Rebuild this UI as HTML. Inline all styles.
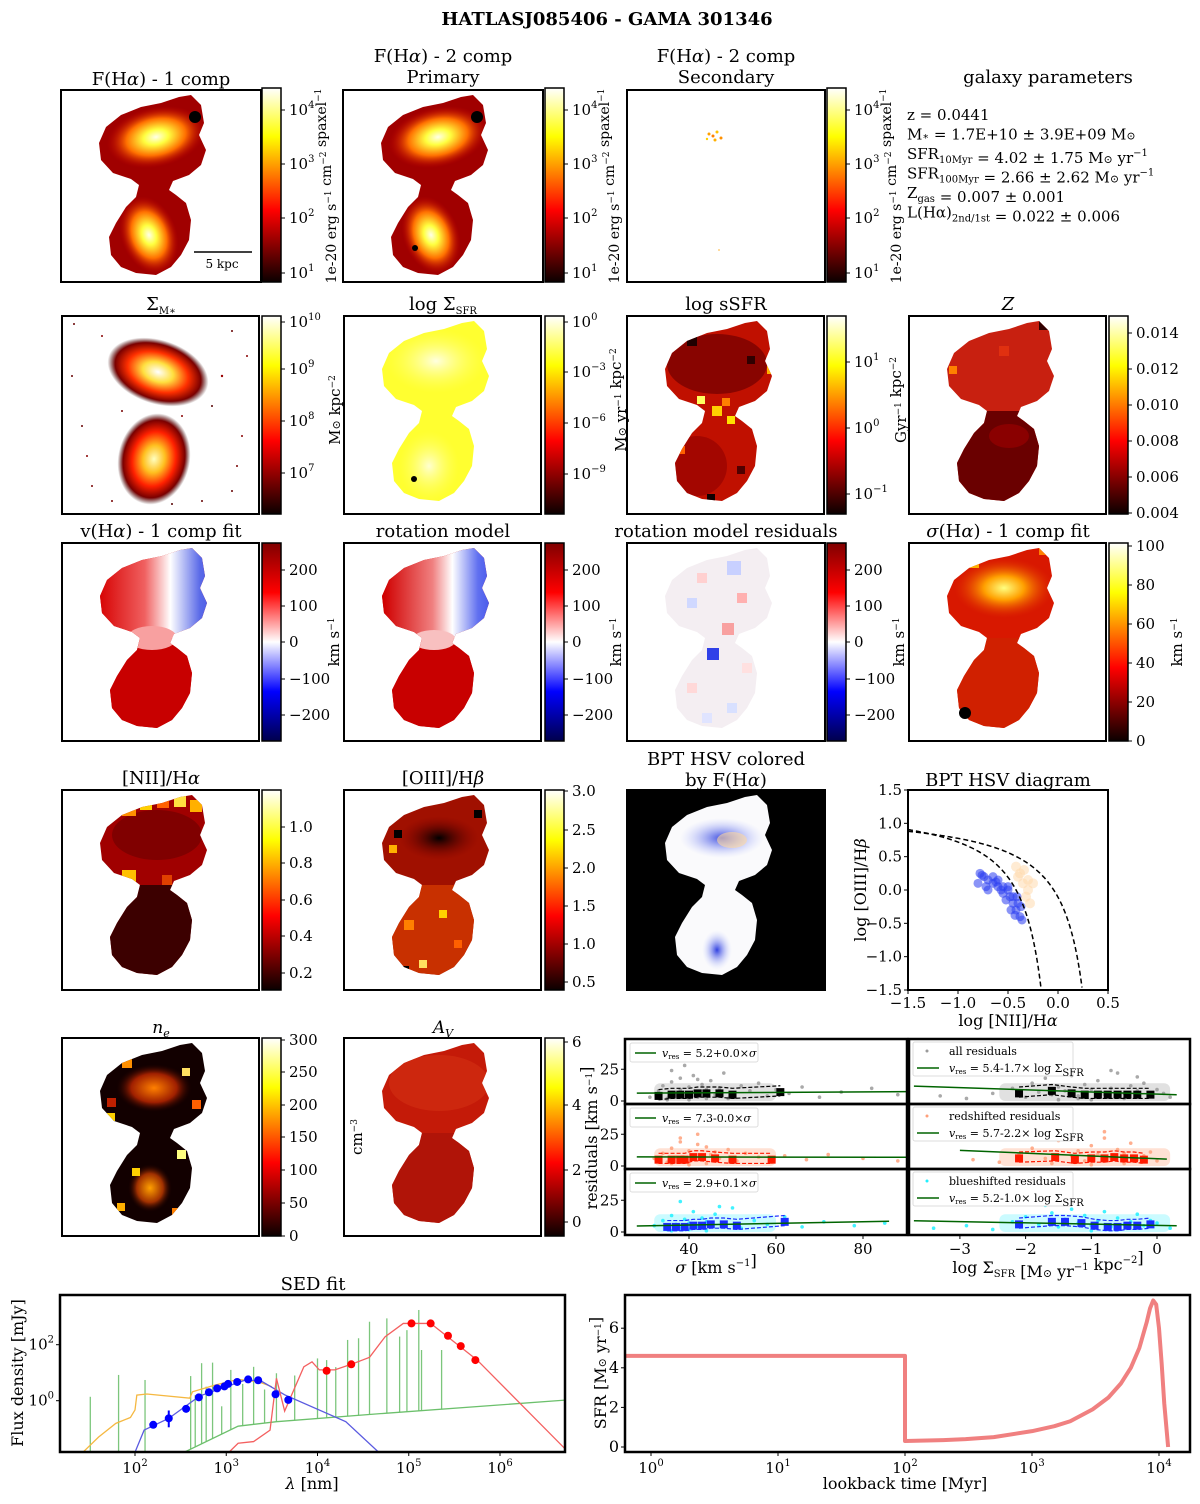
<!DOCTYPE html>
<html><head><meta charset="utf-8"><style>
html,body{margin:0;padding:0;background:#fff}
svg text{font-family:"DejaVu Serif","Liberation Serif",serif;fill:#000}
</style></head><body>
<svg id="fig" xmlns="http://www.w3.org/2000/svg" width="1200" height="1499" viewBox="0 0 1200 1499">
<defs>
<linearGradient id="hot" x1="0" y1="1" x2="0" y2="0"><stop offset="0" stop-color="#0b0000"/><stop offset="0.37" stop-color="#ff0000"/><stop offset="0.75" stop-color="#ffff00"/><stop offset="1" stop-color="#ffffff"/></linearGradient>
<linearGradient id="seis" x1="0" y1="1" x2="0" y2="0"><stop offset="0" stop-color="#00004c"/><stop offset="0.25" stop-color="#0000ff"/><stop offset="0.5" stop-color="#ffffff"/><stop offset="0.75" stop-color="#ff0000"/><stop offset="1" stop-color="#800000"/></linearGradient>
<linearGradient id="velh" x1="0" y1="0" x2="1" y2="0"><stop offset="0.2" stop-color="#d80808"/><stop offset="0.42" stop-color="#f06060"/><stop offset="0.55" stop-color="#ffffff"/><stop offset="0.7" stop-color="#5a6ae8"/><stop offset="0.85" stop-color="#3040e0"/></linearGradient>
<linearGradient id="roth" x1="0" y1="0" x2="1" y2="0"><stop offset="0.2" stop-color="#d00000"/><stop offset="0.45" stop-color="#f08080"/><stop offset="0.55" stop-color="#ffffff"/><stop offset="0.68" stop-color="#6070f0"/><stop offset="0.85" stop-color="#2030e0"/></linearGradient>
</defs>
<text x="607" y="25" font-size="18" font-weight="bold" text-anchor="middle">HATLASJ085406 - GAMA 301346</text>
</svg>
<script>
// ---------- chart data ----------
const sedBlueLam=[2.20,2.37,2.56,2.70,2.81,2.90,2.98,3.02,3.12,3.24,3.35,3.54,3.68];
const sedBlueFlux=[-0.86,-0.63,-0.29,0.12,0.30,0.44,0.51,0.60,0.67,0.76,0.73,0.23,0.03];
const sedRedLam=[4.10,4.37,5.03,5.24,5.43,5.57,5.73];
const sedRedFlux=[1.07,1.30,2.76,2.76,2.32,1.95,1.45];
const orangeLam=[1.43,1.6,1.79,1.95,2.0,2.02,2.13,2.6,2.63,2.88,3.13,3.35,3.5];
const orangeFlux=[-1.84,-1.3,-0.81,-0.6,-0.33,0.20,0.24,0.09,0.32,0.56,0.76,0.68,0.5];
const blueModelLam=[2.0,2.1,2.37,2.71,3.22,3.39,3.64,4.31,4.67];
const blueModelFlux=[-1.84,-1.05,-0.63,0.17,0.75,0.69,0.21,-0.75,-1.84];
const redModelLam=[3.03,3.13,3.30,3.48,3.55,3.64,3.85,3.94,4.02,4.19,4.37,4.57,4.74,4.94,5.24,5.75,6.75];
const redModelFlux=[-1.84,-1.52,-1.46,-1.05,0.80,-0.37,1.21,1.39,1.10,1.10,1.30,1.55,2.28,2.76,2.76,1.45,-1.84];
const greenContLam=[2.54,3.13,3.55,4.74,6.75];
const greenContFlux=[-1.84,-0.91,-0.75,-0.45,0.03];
const greenLineLam=[1.51,1.82,2.11,2.61,2.73,2.85,3.05,3.30,3.55,4.00,4.10,4.33,4.45,4.57,4.76,4.90,4.98,5.11,5.14,5.36,2.66,2.78,2.95,3.18,3.42,3.75,4.20];
const greenLineTop=[0.14,0.92,0.74,0.88,1.34,1.36,1.10,1.21,0.98,1.51,1.45,2.17,2.23,2.82,2.94,2.29,2.52,3.24,1.81,1.81,0.2,0.5,-0.2,0.6,0.4,0.9,1.2];
const sfhTime=[0.6,100,100,200,300,500,1000,1500,2000,3000,4000,5000,6000,7000,8000,8500,9000,9500,10000,10500,11000,11800];
const sfhRate=[4.6,4.6,0.3,0.35,0.4,0.5,0.8,1.05,1.3,1.9,2.5,3.2,4.0,5.0,6.3,7.0,7.4,7.2,6.0,4.2,2.2,0.0];
const bptBlueN2=[-0.78,-0.76,-0.74,-0.7,-0.65,-0.6,-0.55,-0.5,-0.48,-0.45,-0.42,-0.38,-0.36,-0.5,-0.55,-0.65,-0.7,-0.45,-0.4,-0.6,-0.52,-0.8,-0.72,-0.47,-0.43,-0.57,-0.62,-0.41,-0.37];
const bptBlueO3=[0.25,0.22,0.2,0.15,0.1,0.05,0.05,0.0,-0.1,-0.2,-0.3,-0.4,-0.45,0.05,-0.05,0.2,0.0,-0.1,-0.2,0.15,-0.15,0.1,0.05,-0.3,-0.38,0.0,0.12,-0.1,-0.25];
const bptOrN2=[-0.4,-0.35,-0.3,-0.32,-0.38,-0.3,-0.28,-0.25,-0.34,-0.42];
const bptOrO3=[0.2,0.1,0.0,-0.1,0.25,0.15,-0.2,0.1,0.3,0.35];
// residual scatter
const sigAll=[31,33,34,35,36,37,38,38,39,40,41,41,42,43,44,45,46,47,48,50,52,54,56,58,60,63,66,70,75,82,88,35,40,44,49,36,39,42,33,37];
const resAll=[3,8,12,2,15,6,9,18,4,11,7,20,3,13,9,16,5,10,22,6,12,8,14,4,9,6,11,3,7,10,5,1,1,2,2,24,28,17,6,4];
const sigRed=[32,34,35,36,37,38,39,40,41,42,43,44,45,47,49,51,53,56,59,62,67,72,80,88,36,40,44,38,42,46];
const resRed=[6,10,3,14,7,19,4,12,8,25,5,15,9,6,13,4,10,7,3,8,5,9,6,4,2,1,2,22,17,11];
const sigCyan=[32,34,35,36,37,38,39,40,41,42,43,44,46,48,50,52,55,58,62,66,71,78,85,36,40,44,38,47];
const resCyan=[5,9,2,13,6,3,10,7,16,4,11,8,14,5,19,3,9,6,12,4,8,5,7,1,2,1,24,20];
const lsAll=[-3.3,-2.9,-2.5,-2.2,-2.0,-1.9,-1.8,-1.7,-1.6,-1.5,-1.4,-1.3,-1.2,-1.1,-1.0,-0.9,-0.8,-0.7,-0.6,-0.5,-0.4,-0.3,-0.2,-0.1,0.0,0.1,0.2,-1.5,-1.0,-0.5,-1.8,-0.7,-0.3,-1.2];
const lrAll=[4,2,6,10,3,14,7,18,5,11,8,20,4,13,9,16,5,10,22,6,12,8,14,4,9,6,3,1,1,2,26,24,19,2];
const lsRed=[-2.8,-2.4,-2.1,-1.9,-1.7,-1.5,-1.3,-1.2,-1.1,-1.0,-0.9,-0.8,-0.7,-0.6,-0.5,-0.4,-0.3,-0.2,-0.1,0.0,-1.6,-1.0,-0.5,-0.8,-1.4];
const lrRed=[5,3,9,14,6,20,8,12,4,16,9,22,6,13,10,18,5,8,11,4,2,1,2,27,24];
const lsCyan=[-3.4,-2.9,-2.5,-2.2,-2.0,-1.8,-1.6,-1.5,-1.4,-1.3,-1.2,-1.1,-1.0,-0.9,-0.8,-0.7,-0.6,-0.5,-0.4,-0.3,-0.2,-0.1,0.0,0.2,-1.0,-0.6,-1.7];
const lrCyan=[3,5,2,8,12,6,15,4,10,18,7,13,5,9,16,4,11,6,8,14,5,9,7,3,1,2,21];
const binSig1=[33,36,38,40,42,44,47,50,61], binRes1=[4,5,5,5,6,6,6,5,7];
const binSig2=[33,36,38,39,41,43,46,50,59], binRes2=[5,5,5,5,7,7,6,5,5];
const binSig3=[35,37,39,41,43,45,48,51,62], binRes3=[4,4,4,5,5,6,6,5,8];
const binLs1=[-2.1,-1.6,-1.3,-1.1,-0.9,-0.75,-0.6,-0.45,-0.3,-0.1], binLr1=[6,8,6,5,5,5,5,5,5,5];
const binLs2=[-2.1,-1.55,-1.25,-1.0,-0.8,-0.65,-0.5,-0.35,-0.2], binLr2=[6,7,5,6,6,7,6,6,5];
const binLs3=[-2.1,-1.6,-1.4,-1.15,-0.95,-0.75,-0.6,-0.45,-0.3,-0.1], binLr3=[6,8,8,7,5,4,4,5,5,6];
const fitIntercepts=[5.6,7.3,2.9,5.4,5.7,5.2];
const fitSlopes=[0.02,-0.005,0.065,-1.7,-2.2,-1.0];

// ---------- helpers ----------
const NS='http://www.w3.org/2000/svg';
const svg=document.getElementById('fig');
const defs=svg.querySelector('defs');
function el(tag,attrs,parent){const e=document.createElementNS(NS,tag);for(const k in attrs)e.setAttribute(k,attrs[k]);(parent||svg).appendChild(e);return e;}
function nm(e,n,i){


return e;}
function txt(x,y,html,size,anchor,name,extra,parent){const t=el('text',Object.assign({x:x,y:y,'font-size':size||16,'text-anchor':anchor||'middle'},extra||{}),parent);t.innerHTML=html;nm(t,name);return t;}
function grp(name){const g=el('g',{});nm(g,name);return g;}
let gid=0;
function radial(stops){const id='rg'+(gid++);const g=el('radialGradient',{id:id},defs);stops.forEach(s=>el('stop',{offset:s[0],'stop-color':s[1],'stop-opacity':s[2]===undefined?1:s[2]},g));return 'url(#'+id+')';}
const sub=(s)=>'<tspan font-size="10" dy="4">'+s+'</tspan><tspan dy="-4"></tspan>';
const sup=(s)=>'<tspan font-size="10" dy="-7">'+s+'</tspan><tspan dy="7"></tspan>';
const supS=(s)=>'<tspan font-size="9" dy="-5">'+s+'</tspan><tspan dy="5"></tspan>';

// ---------- galaxy maps ----------
const galPoly=[[60,20],[80,12],[100,8],[118,2],[130,0],[140,10],[143,28],[138,40],[145,55],[140,70],[128,80],[112,86],[108,95],[115,100],[125,108],[130,125],[128,145],[120,160],[110,172],[95,180],[75,178],[60,172],[50,160],[48,142],[55,128],[65,112],[75,102],[78,90],[70,84],[52,78],[40,65],[38,48],[45,32]];
function mapPanel(px,py,w,h,name,st){
  const g=grp(name);
  el('rect',{x:px,y:py,width:w,height:h,fill:st.bg||'#fff'},g);
  if(st.poly!==false){
    const id='cp'+(gid++);
    const cp=el('clipPath',{id:id},defs);
    const pts=galPoly.map(p=>(px+p[0]+(st.dx||0))+','+(py+p[1]+5)).join(' ');
    el('polygon',{points:pts},cp);
    const inner=el('g',{'clip-path':'url(#'+id+')'},g);
    el('rect',{x:px,y:py,width:w,height:h,fill:st.base},inner);
    if(st.upperFill) el('rect',{x:px,y:py,width:w,height:95,fill:st.upperFill},inner);
    if(st.lowerFill) el('rect',{x:px,y:py+95,width:w,height:h-95,fill:st.lowerFill},inner);
    (st.ells||[]).forEach(e=>{const f=e.stops?radial(e.stops):e.fill;el('ellipse',{cx:px+e.cx,cy:py+e.cy,rx:e.rx,ry:e.ry,fill:f,opacity:e.op||1,transform:'rotate('+(e.rot||0)+' '+(px+e.cx)+' '+(py+e.cy)+')'},inner);});
    (st.dots||[]).forEach(d=>el('rect',{x:px+d[0],y:py+d[1],width:d[2],height:d[2],fill:d[3]},inner));
  } else {
    (st.ells||[]).forEach(e=>{const f=radial(e.stops);el('ellipse',{cx:px+e.cx,cy:py+e.cy,rx:e.rx,ry:e.ry,fill:f,transform:'rotate('+(e.rot||0)+' '+(px+e.cx)+' '+(py+e.cy)+')'},g);});
  }
  (st.top||[]).forEach(d=>el('circle',{cx:px+d[0],cy:py+d[1],r:d[2],fill:d[3]},g));
  const fr=el('rect',{x:px,y:py,width:w,height:h,fill:'none',stroke:'#000','stroke-width':2},g);
  nm(fr,name+'-frame');
  return g;
}
function colorbar(x,y,h,grad,ticks,name){
  const g=grp(name);
  el('rect',{x:x,y:y,width:19,height:h,fill:'url(#'+grad+')',stroke:'#000','stroke-width':1.5},g);
  ticks.forEach(t=>{el('line',{x1:x+19,x2:x+23,y1:t[0],y2:t[0],stroke:'#000'},g);txt(x+27,t[0]+5,t[1],15,'start',name+'-tick',{},g);});
  return g;
}
function vlabel(x,y,html,name,size){txt(x,y,html,size||15,'middle',name,{transform:'rotate(-90 '+x+' '+y+')'});}

const hotStops=[[0,'#ffffe8'],[0.25,'#ffff40'],[0.6,'#ff7000'],[1,'#c00000',0]];
// Row 1
const p10=(e)=>'10'+sup(e);
mapPanel(61,90,200,192,'halpha-1comp-map',{base:'#a00000',ells:[{cx:95,cy:47,rx:50,ry:30,rot:-12,stops:hotStops},{cx:88,cy:145,rx:28,ry:40,rot:-20,stops:hotStops}],top:[[134,27,6,'#000']]});
mapPanel(343,90,200,192,'halpha-primary-map',{base:'#a00000',ells:[{cx:95,cy:47,rx:50,ry:30,rot:-12,stops:hotStops},{cx:88,cy:145,rx:28,ry:40,rot:-20,stops:hotStops}],top:[[134,27,6,'#000'],[72,158,3,'#000']]});
mapPanel(627,90,198,192,'halpha-secondary-map',{poly:false,ells:[],top:[[82,44,1.5,'#ffa000'],[86,46,1.5,'#ff8000'],[90,42,1.5,'#ffc000'],[94,48,1.5,'#ff9000'],[88,50,1.5,'#ffb000'],[80,49,1.2,'#ffd000'],[92,160,1,'#ffd080']]});
const sb=grp('scale-bar');
el('line',{x1:194,x2:252,y1:252,y2:252,stroke:'#000','stroke-width':1.5},sb);
txt(222,268,'5 kpc',12,'middle','scale-bar-label',{},sb);
const t1=[[110,p10(4)],[164,p10(3)],[218,p10(2)],[273,p10(1)]];
colorbar(262,88,194,'hot',t1,'colorbar-halpha-1comp');
colorbar(545,88,194,'hot',t1,'colorbar-halpha-primary');
colorbar(827,88,194,'hot',t1,'colorbar-halpha-secondary');
const fluxLab='1e-20 erg s'+supS('−1')+' cm'+supS('−2')+' spaxel'+supS('−1');
vlabel(336,186,fluxLab,'colorbar-label-flux-1',14);
vlabel(619,186,fluxLab,'colorbar-label-flux-2',14);
vlabel(901,186,fluxLab,'colorbar-label-flux-3',14);
txt(161,85,'F(H<tspan font-style="italic">α</tspan>) - 1 comp',18,'middle','title-halpha-1comp');
txt(443,62,'F(H<tspan font-style="italic">α</tspan>) - 2 comp',18,'middle','title-halpha-2comp');
txt(443,83,'Primary',18,'middle','title-primary');
txt(726,62,'F(H<tspan font-style="italic">α</tspan>) - 2 comp',18,'middle','title-halpha-2comp-b');
txt(726,83,'Secondary',18,'middle','title-secondary');
txt(1048,83,'galaxy parameters',18,'middle','title-galaxy-parameters');
const gp=grp('galaxy-parameters-text');
[['z = 0.0441'],['M<tspan font-size="10">∗</tspan> = 1.7E+10 ± 3.9E+09 M<tspan font-size="11">⊙</tspan>'],['SFR'+sub('10Myr')+' = 4.02 ± 1.75 M<tspan font-size="11">⊙</tspan> yr'+sup('−1')],['SFR'+sub('100Myr')+' = 2.66 ± 2.62 M<tspan font-size="11">⊙</tspan> yr'+sup('−1')],['Z'+sub('gas')+' = 0.007 ± 0.001'],['L(Hα)'+sub('2nd/1st')+' = 0.022 ± 0.006']].forEach((l,i)=>txt(907,120+i*19.5,l[0],15,'start','galaxy-parameter-line',{},gp));

// Row 2
mapPanel(62,316,197,198,'stellar-mass-density-map',{poly:false,ells:[{cx:96,cy:56,rx:52,ry:32,rot:18,stops:[[0,'#ffffff'],[0.3,'#ffe040'],[0.6,'#ff3000'],[0.85,'#7a0000'],[1,'#300000',0]]},{cx:92,cy:143,rx:36,ry:46,rot:12,stops:[[0,'#ffffc0'],[0.3,'#ffc020'],[0.6,'#ff2000'],[0.85,'#7a0000'],[1,'#300000',0]]}],top:[[12,8,1,'#600'],[40,20,1,'#800'],[170,15,1,'#600'],[185,40,1,'#800'],[20,110,1,'#600'],[180,120,1,'#800'],[150,90,1,'#500'],[30,170,1,'#700'],[170,175,1,'#600'],[60,95,1,'#700'],[120,100,1,'#800'],[175,150,1,'#700'],[10,60,1,'#600'],[140,185,1,'#600'],[25,140,1,'#800'],[160,60,1.2,'#900'],[50,185,1,'#700'],[110,188,1,'#500']]});
mapPanel(344,316,197,198,'log-sigma-sfr-map',{base:'#ffff30',ells:[{cx:92,cy:45,rx:50,ry:32,stops:[[0,'#ffffe0'],[1,'#ffff60',0]]},{cx:85,cy:150,rx:30,ry:35,stops:[[0,'#ffffd0'],[1,'#ffff60',0]]}],top:[[70,163,3,'#000']]});
mapPanel(627,316,197,198,'log-ssfr-map',{base:'#c01000',ells:[{cx:90,cy:48,rx:50,ry:30,fill:'#700000',op:0.7},{cx:70,cy:150,rx:30,ry:30,fill:'#900000',op:0.6}],dots:[[85,90,10,'#ffd000'],[95,82,8,'#ff8000'],[70,80,8,'#ffff60'],[100,100,8,'#ffe000'],[60,20,10,'#200000'],[120,40,8,'#300000'],[80,178,8,'#100000'],[110,150,8,'#500000'],[50,130,8,'#ff6000'],[140,50,8,'#ffb000']]});
mapPanel(909,316,197,198,'metallicity-map',{base:'#c82010',lowerFill:'#6a0000',ells:[{cx:100,cy:120,rx:20,ry:12,fill:'#8a0000'}],dots:[[130,0,14,'#300000'],[40,50,8,'#ff8000'],[65,95,8,'#ff7000'],[90,30,10,'#e03010']]});
colorbar(262,316,198,'hot',[[322,'10'+sup('10')],[369,p10(9)],[421,p10(8)],[473,p10(7)]],'colorbar-stellar-mass');
colorbar(545,316,198,'hot',[[322,p10(0)],[372,p10('−3')],[423,p10('−6')],[474,p10('−9')]],'colorbar-sigma-sfr');
colorbar(827,316,198,'hot',[[362,p10(1)],[428,p10(0)],[494,p10('−1')]],'colorbar-ssfr');
colorbar(1109,316,198,'hot',[[333,'0.014'],[369,'0.012'],[405,'0.010'],[441,'0.008'],[477,'0.006'],[513,'0.004']],'colorbar-metallicity');
vlabel(340,410,'M<tspan font-size="11">⊙</tspan> kpc'+supS('−2'),'colorbar-label-mass');
vlabel(626,400,'M<tspan font-size="11">⊙</tspan> yr'+supS('−1')+' kpc'+supS('−2'),'colorbar-label-sfr');
vlabel(906,400,'Gyr'+supS('−1')+' kpc'+supS('−2'),'colorbar-label-ssfr');
txt(161,310,'Σ'+sub('M∗'),18,'middle','title-stellar-mass');
txt(443,310,'log Σ'+sub('SFR'),18,'middle','title-sigma-sfr');
txt(726,310,'log sSFR',18,'middle','title-ssfr');
txt(1008,310,'<tspan font-style="italic">Z</tspan>',18,'middle','title-metallicity');

// Row 3
mapPanel(62,543,197,198,'velocity-map',{base:'#c80000',upperFill:'url(#velh)',ells:[{cx:90,cy:95,rx:25,ry:12,fill:'#f8a0a0'}],lowerFill:'#c80000'});
mapPanel(344,543,197,198,'rotation-model-map',{base:'#c80000',upperFill:'url(#roth)',lowerFill:'#c80000',ells:[{cx:90,cy:97,rx:22,ry:10,fill:'#f8c0c0'}]});
mapPanel(627,543,198,198,'rotation-residuals-map',{base:'#f4eef2',dots:[[100,18,14,'#c8d0ff'],[70,30,10,'#ffd0d0'],[110,50,10,'#ffb0b0'],[60,55,10,'#d0d8ff'],[95,80,12,'#f8a0a0'],[80,105,12,'#3040e8'],[60,140,10,'#ffd8d8'],[100,160,10,'#d8e0ff'],[75,170,10,'#e0e4ff'],[115,120,10,'#ffe0e0']]});
mapPanel(909,543,197,198,'sigma-map',{base:'#d81800',ells:[{cx:95,cy:45,rx:50,ry:30,stops:[[0,'#ffff80'],[0.4,'#ffa000'],[1,'#e03000',0]]}],lowerFill:'#d02000',dots:[[130,0,12,'#ff8000'],[60,15,10,'#ffb000']],top:[[56,170,6,'#000']]});
const vt=[[570,'200'],[606,'100'],[642,'0'],[679,'−100'],[715,'−200']];
colorbar(262,543,198,'seis',vt,'colorbar-velocity');
colorbar(545,543,198,'seis',vt,'colorbar-rotation');
colorbar(827,543,198,'seis',vt,'colorbar-residuals');
colorbar(1109,543,198,'hot',[[546,'100'],[585,'80'],[624,'60'],[663,'40'],[702,'20'],[741,'0']],'colorbar-sigma');
vlabel(339,642,'km s'+supS('−1'),'colorbar-label-velocity');
vlabel(621,642,'km s'+supS('−1'),'colorbar-label-rotation');
vlabel(904,642,'km s'+supS('−1'),'colorbar-label-residuals');
vlabel(1182,642,'km s'+supS('−1'),'colorbar-label-sigma');
txt(161,537,'v(H<tspan font-style="italic">α</tspan>) - 1 comp fit',18,'middle','title-velocity');
txt(443,537,'rotation model',18,'middle','title-rotation-model');
txt(726,537,'rotation model residuals',18,'middle','title-rotation-residuals');
txt(1008,537,'<tspan font-style="italic">σ</tspan>(H<tspan font-style="italic">α</tspan>) - 1 comp fit',18,'middle','title-sigma');

// Row 4
mapPanel(62,790,197,200,'nii-halpha-map',{base:'#a00000',ells:[{cx:95,cy:45,rx:45,ry:25,fill:'#800000'}],lowerFill:'#3c0000',dots:[[60,12,14,'#ff9000'],[78,8,12,'#ffd000'],[95,6,12,'#ff6000'],[112,5,12,'#ffe040'],[128,10,12,'#ffb000'],[60,80,14,'#ffc000'],[100,85,10,'#e04000']]});
mapPanel(344,790,197,200,'oiii-hbeta-map',{base:'#a01000',ells:[{cx:95,cy:48,rx:40,ry:22,stops:[[0,'#000'],[1,'#800000',0]]}],lowerFill:'#c83000',dots:[[50,40,8,'#000'],[130,20,8,'#000'],[60,130,10,'#ff8000'],[95,120,8,'#ffd000'],[75,170,8,'#ffe060'],[110,150,8,'#ff6000'],[58,176,7,'#000'],[120,100,8,'#ffff60'],[45,55,8,'#ffb000']]});
mapPanel(627,790,198,200,'bpt-colored-map',{bg:'#000',base:'#fafafc',ells:[{cx:95,cy:48,rx:42,ry:20,stops:[[0,'#4050e0'],[1,'#c0c8ff',0]]},{cx:90,cy:160,rx:15,ry:20,stops:[[0,'#3040e0'],[1,'#d0d8ff',0]]},{cx:105,cy:50,rx:15,ry:8,fill:'#ffd8a0',op:0.6}]});
colorbar(262,790,200,'hot',[[827,'1.0'],[863,'0.8'],[900,'0.6'],[936,'0.4'],[973,'0.2']],'colorbar-nii');
colorbar(545,790,200,'hot',[[791,'3.0'],[830,'2.5'],[868,'2.0'],[906,'1.5'],[944,'1.0'],[982,'0.5']],'colorbar-oiii');
txt(161,784,'[NII]/H<tspan font-style="italic">α</tspan>',18,'middle','title-nii-halpha');
txt(443,784,'[OIII]/H<tspan font-style="italic">β</tspan>',18,'middle','title-oiii-hbeta');
txt(726,765,'BPT HSV colored',18,'middle','title-bpt-colored');
txt(726,786,'by F(H<tspan font-style="italic">α</tspan>)',18,'middle','title-bpt-colored-2');
txt(1008,786,'BPT HSV diagram',18,'middle','title-bpt-diagram');

// Row 5
mapPanel(62,1038,197,198,'electron-density-map',{base:'#120000',ells:[{cx:92,cy:50,rx:38,ry:24,stops:[[0,'#ff8000'],[0.6,'#a02000'],[1,'#200000',0]]},{cx:88,cy:150,rx:22,ry:24,stops:[[0,'#ffa000'],[0.6,'#a03000'],[1,'#200000',0]]}],dots:[[60,20,10,'#ff9000'],[120,30,8,'#ffe060'],[45,60,9,'#c02000'],[130,62,9,'#ff6000'],[70,130,8,'#ffd000'],[110,170,8,'#ff8000'],[55,165,8,'#ffb000'],[115,112,9,'#ffff80'],[45,75,8,'#ffd000']]});
mapPanel(344,1038,197,198,'extinction-map',{base:'#c41a08',ells:[{cx:95,cy:45,rx:50,ry:28,fill:'#d02a10',op:0.8}],lowerFill:'#b01408'});
colorbar(262,1038,198,'hot',[[1040,'300'],[1072,'250'],[1105,'200'],[1137,'150'],[1170,'100'],[1203,'50'],[1236,'0']],'colorbar-ne');
colorbar(545,1038,198,'hot',[[1042,'6'],[1105,'4'],[1170,'2'],[1222,'0']],'colorbar-av');
vlabel(362,1137,'cm'+supS('−3'),'colorbar-label-ne');
txt(161,1033,'<tspan font-style="italic">n</tspan><tspan font-style="italic" font-size="11" dy="4">e</tspan>',17,'middle','title-ne');
txt(443,1033,'<tspan font-style="italic">A</tspan><tspan font-style="italic" font-size="11" dy="4">V</tspan>',17,'middle','title-av');

// ---------- BPT diagram ----------
(function(){
  const X0=908,X1=1108,Y0=790,Y1=990;
  const bx=v=>X0+(v+1.5)/2*(X1-X0), by=v=>Y1-(v+1.5)/3*(Y1-Y0);
  const g=grp('bpt-diagram');
  el('rect',{x:X0,y:Y0,width:X1-X0,height:Y1-Y0,fill:'#fff'},g);
  bptOrN2.forEach((v,i)=>{const c=el('circle',{cx:bx(v),cy:by(bptOrO3[i]),r:5,fill:'#ffd8a8',opacity:0.5},g);
  });
  bptBlueN2.forEach((v,i)=>{const c=el('circle',{cx:bx(v),cy:by(bptBlueO3[i]),r:4.5,fill:'#2a3cf0',opacity:0.55},g);
  });
  const curve=(f,xmax)=>{let d='';for(let x=-1.5;x<xmax;x+=0.01){const y=f(x);if(y<-1.5)break;d+=(d?'L':'M')+bx(x).toFixed(1)+','+by(y).toFixed(1);}return d;};
  const k1=el('path',{d:curve(x=>0.61/(x-0.05)+1.3,0.05),fill:'none',stroke:'#000','stroke-width':1.5,'stroke-dasharray':'5,3'},g);
  nm(k1,'kauffmann-line');
  const k2=el('path',{d:curve(x=>0.61/(x-0.47)+1.19,0.47),fill:'none',stroke:'#000','stroke-width':1.5,'stroke-dasharray':'5,3'},g);
  nm(k2,'kewley-line');
  el('rect',{x:X0,y:Y0,width:X1-X0,height:Y1-Y0,fill:'none',stroke:'#000','stroke-width':2},g);
  [-1.5,-1.0,-0.5,0.0,0.5].forEach(v=>{el('line',{x1:bx(v),x2:bx(v),y1:Y1,y2:Y1+4,stroke:'#000'},g);txt(bx(v),Y1+18,v.toFixed(1).replace('-','−'),15,'middle','bpt-x-tick',{},g);});
  [1.5,1.0,0.5,0.0,-0.5,-1.0,-1.5].forEach(v=>{el('line',{x1:X0-4,x2:X0,y1:by(v),y2:by(v),stroke:'#000'},g);txt(X0-6,by(v)+5,v.toFixed(1).replace('-','−'),15,'end','bpt-y-tick',{},g);});
  txt(1008,1026,'log [NII]/H<tspan font-style="italic">α</tspan>',16,'middle','bpt-x-axis-title',{},g);
  vlabel(866,890,'log [OIII]/H<tspan font-style="italic">β</tspan>','bpt-y-axis-title',16);
})();

// ---------- residual scatter grid ----------
(function(){
  const L0=625,L1=907,R0=909,R1=1190;
  const rows=[[1039,1104],[1104,1169],[1169,1235]];
  const sx=s=>689+(s-40)*4.35, lx=v=>1157+v*65.7;
  const ry=(r,row)=>rows[row][1]-3-r*1.27;
  const ptsL=[[sigAll,resAll,'#9a9a9a'],[sigRed,resRed,'#ffa07a'],[sigCyan,resCyan,'#20f0ff']];
  const ptsR=[[lsAll,lrAll,'#9a9a9a'],[lsRed,lrRed,'#ffa07a'],[lsCyan,lrCyan,'#20f0ff']];
  const hazeL=['#c8c8c8','#ffc8b0','#a0f8ff'];
  const binsL=[[binSig1,binRes1],[binSig2,binRes2],[binSig3,binRes3]];
  const binsR=[[binLs1,binLr1],[binLs2,binLr2],[binLs3,binLr3]];
  const binCol=['#000','#ff1a00','#1a2cff'];
  const fitRangeL=[[28,90],[28,90],[28,86]], fitRangeR=[[-3.7,0.3],[-3.0,0.15],[-3.7,0.3]];
  const legL=['5.2+0.0×<tspan font-style="italic">σ</tspan>','7.3-0.0×<tspan font-style="italic">σ</tspan>','2.9+0.1×<tspan font-style="italic">σ</tspan>'];
  const legR=['5.4-1.7× log Σ'+sub('SFR'),'5.7-2.2× log Σ'+sub('SFR'),'5.2-1.0× log Σ'+sub('SFR')];
  const legRName=['all residuals','redshifted residuals','blueshifted residuals'];
  const g=grp('residual-scatter-grid');
  for(let r=0;r<3;r++){
    const [T,B]=rows[r];
    [[L0,L1,ptsL[r],binsL[r],sx,fitRangeL[r],r],[R0,R1,ptsR[r],binsR[r],lx,fitRangeR[r],r+3]].forEach((c,ci)=>{
      const [x0,x1,pts,bins,fx,fr,fi]=c;
      const sg=el('g',{},g);
      nm(sg,'residual-panel-'+(ci?'sfr':'sigma')+'-'+r);
      const hz=el('rect',{x:ci?fx(-2.4):fx(32),y:ry(14,r),width:ci?fx(0.2)-fx(-2.4):fx(60)-fx(32),height:ry(0,r)-ry(14,r),fill:hazeL[r],opacity:0.55,rx:6},sg);
      
      pts[0].forEach((v,i)=>{const p=el('circle',{cx:fx(v),cy:ry(pts[1][i],r),r:1.8,fill:pts[2],opacity:0.85},sg);
      });
      const bc=binCol[r];
      const up=bins[0].map((v,i)=>fx(v)+','+ry(bins[1][i]+5,r)).join(' ');
      const dn=bins[0].map((v,i)=>fx(v)+','+ry(Math.max(bins[1][i]-3,0.5),r)).join(' ');
      el('polyline',{points:up,fill:'none',stroke:bc,'stroke-dasharray':'4,2','stroke-width':1.2},sg);
      el('polyline',{points:dn,fill:'none',stroke:bc,'stroke-dasharray':'4,2','stroke-width':1.2},sg);
      bins[0].forEach((v,i)=>{const s=el('rect',{x:fx(v)-4,y:ry(bins[1][i],r)-4,width:8,height:8,fill:bc},sg);
      });
      const fl=el('line',{x1:fx(fr[0]),x2:fx(fr[1]),y1:ry(fitIntercepts[fi]+fitSlopes[fi]*fr[0],r),y2:ry(fitIntercepts[fi]+fitSlopes[fi]*fr[1],r),stroke:'#006400','stroke-width':1.5},sg);
      nm(fl,'fit-line');
      const lg=el('g',{},sg);
      nm(lg,'residual-legend');
      if(ci===0){
        el('rect',{x:x0+5,y:T+4,width:128,height:19,fill:'#fff',stroke:'#ddd',rx:2},lg);
        el('line',{x1:x0+10,x2:x0+31,y1:T+14,y2:T+14,stroke:'#006400','stroke-width':1.5},lg);
        txt(x0+37,T+18,'<tspan font-style="italic">v</tspan><tspan font-size="7" dy="2">res</tspan><tspan dy="-2"> = </tspan>'+legL[r],11,'start','legend-fit-sigma',{},lg);
      } else {
        el('rect',{x:x0+4,y:T+3,width:160,height:34,fill:'#fff',stroke:'#ddd',rx:2},lg);
        el('circle',{cx:x0+18,cy:T+12,r:1.5,fill:pts[2]},lg);
        txt(x0+40,T+16,legRName[r],11,'start','legend-residuals',{},lg);
        el('line',{x1:x0+8,x2:x0+30,y1:T+29,y2:T+29,stroke:'#006400','stroke-width':1.5},lg);
        txt(x0+40,T+33,'<tspan font-style="italic">v</tspan><tspan font-size="7" dy="2">res</tspan><tspan dy="-2"> = </tspan>'+legR[r],11,'start','legend-fit-sfr',{},lg);
      }
      el('rect',{x:x0,y:T,width:x1-x0,height:B-T,fill:'none',stroke:'#000','stroke-width':2.5},sg);
    });
    [0,25].forEach(v=>{el('line',{x1:L0-4,x2:L0,y1:ry(v,r),y2:ry(v,r),stroke:'#000'},g);txt(L0-6,ry(v,r)+5,String(v),15,'end','residual-y-tick',{},g);});
  }
  [40,60,80].forEach(v=>{el('line',{x1:sx(v),x2:sx(v),y1:1235,y2:1239,stroke:'#000'},g);txt(sx(v),1254,String(v),15,'middle','sigma-x-tick',{},g);});
  [-3,-2,-1,0].forEach(v=>{el('line',{x1:lx(v),x2:lx(v),y1:1235,y2:1239,stroke:'#000'},g);txt(lx(v),1254,String(v).replace('-','−'),15,'middle','sfr-x-tick',{},g);});
  txt(716,1273,'<tspan font-style="italic">σ</tspan> [km s'+sup('−1')+']',16,'middle','sigma-x-axis-title',{},g);
  txt(1048,1273,'log Σ'+sub('SFR')+' [M<tspan font-size="11">⊙</tspan> yr'+sup('−1')+' kpc'+sup('−2')+']',16,'middle','sfr-x-axis-title',{},g);
  vlabel(597,1138,'residuals [km s'+supS('−1')+']','residuals-y-axis-title',16);
})();

// ---------- SED ----------
(function(){
  const X0=60,X1=565,Y0=1295,Y1=1452;
  const xs=l=>135+(l-2)*91.25, ys=f=>1400.7-f*28;
  const g=grp('sed-fit-chart');
  const cid='sedclip';const cp=el('clipPath',{id:cid},defs);el('rect',{x:X0,y:Y0,width:X1-X0,height:Y1-Y0},cp);
  const inner=el('g',{'clip-path':'url(#'+cid+')'},g);
  const contAt=l=>{for(let i=0;i<greenContLam.length-1;i++){if(l<=greenContLam[i+1]){const t=(l-greenContLam[i])/(greenContLam[i+1]-greenContLam[i]);return greenContFlux[i]+t*(greenContFlux[i+1]-greenContFlux[i]);}}return -1.84;};
  greenLineLam.forEach((l,i)=>{const b=l<greenContLam[0]?-1.9:contAt(l);const ln=el('line',{x1:xs(l),x2:xs(l),y1:ys(b),y2:ys(greenLineTop[i]),stroke:'#5cb85c','stroke-width':1.3,opacity:0.8},inner);
  });
  const path=(L,F,c,n)=>{const p=el('polyline',{points:L.map((l,i)=>xs(l)+','+ys(F[i])).join(' '),fill:'none',stroke:c,'stroke-width':1.3},inner);nm(p,n);};
  path(greenContLam,greenContFlux,'#6cc06c','sed-nebular-continuum');
  path(orangeLam,orangeFlux,'#f5b841','sed-unattenuated-stellar');
  path(blueModelLam,blueModelFlux,'#5a5ae0','sed-attenuated-stellar');
  path(redModelLam,redModelFlux,'#f46060','sed-total-model');
  el('line',{x1:xs(2.37),x2:xs(2.37),y1:ys(-0.35),y2:ys(-0.95),stroke:'#0000ff','stroke-width':2},inner);
  sedBlueLam.forEach((l,i)=>{const c=el('circle',{cx:xs(l),cy:ys(sedBlueFlux[i]),r:4,fill:'#0000ff'},inner);
  });
  sedRedLam.forEach((l,i)=>{const c=el('circle',{cx:xs(l),cy:ys(sedRedFlux[i]),r:4,fill:'#ff0000'},inner);
  });
  el('rect',{x:X0,y:Y0,width:X1-X0,height:Y1-Y0,fill:'none',stroke:'#000','stroke-width':2.5},g);
  [2,3,4,5,6].forEach(v=>{el('line',{x1:xs(v),x2:xs(v),y1:Y1,y2:Y1+4,stroke:'#000'},g);txt(xs(v),Y1+21,p10(v),15,'middle','sed-x-tick',{},g);});
  [[2,'2'],[0,'0']].forEach(v=>{el('line',{x1:X0-4,x2:X0,y1:ys(v[0]),y2:ys(v[0]),stroke:'#000'},g);txt(X0-6,ys(v[0])+5,p10(v[1]),15,'end','sed-y-tick',{},g);});
  txt(313,1290,'SED fit',18,'middle','sed-title',{},g);
  txt(312,1489,'<tspan font-style="italic">λ</tspan> [nm]',16,'middle','sed-x-axis-title',{},g);
  vlabel(23,1373,'Flux density [mJy]','sed-y-axis-title',16);
})();

// ---------- SFH ----------
(function(){
  const X0=625,X1=1190,Y0=1295,Y1=1452;
  const xs=t=>651+Math.log10(t)*127, ys=s=>1447-s*19.8;
  const g=grp('star-formation-history-chart');
  const cid='sfhclip';const cp=el('clipPath',{id:cid},defs);el('rect',{x:X0,y:Y0,width:X1-X0,height:Y1-Y0},cp);
  const pl=el('polyline',{points:sfhTime.map((t,i)=>xs(t)+','+ys(sfhRate[i])).join(' '),fill:'none',stroke:'#f08080','stroke-width':4,'stroke-linejoin':'round','clip-path':'url(#'+cid+')'},g);
  nm(pl,'sfh-line');
  el('rect',{x:X0,y:Y0,width:X1-X0,height:Y1-Y0,fill:'none',stroke:'#000','stroke-width':2.5},g);
  [0,1,2,3,4].forEach(v=>{el('line',{x1:xs(Math.pow(10,v)),x2:xs(Math.pow(10,v)),y1:Y1,y2:Y1+4,stroke:'#000'},g);txt(xs(Math.pow(10,v)),Y1+21,p10(v),15,'middle','sfh-x-tick',{},g);});
  [0,2,4,6].forEach(v=>{el('line',{x1:X0-4,x2:X0,y1:ys(v),y2:ys(v),stroke:'#000'},g);txt(X0-6,ys(v)+5,String(v),16,'end','sfh-y-tick',{},g);});
  txt(905,1489,'lookback time [Myr]',16,'middle','sfh-x-axis-title',{},g);
  vlabel(606,1373,'SFR [M<tspan font-size="11">⊙</tspan> yr'+supS('−1')+']','sfh-y-axis-title',16);
})();
</script>
</body></html>
